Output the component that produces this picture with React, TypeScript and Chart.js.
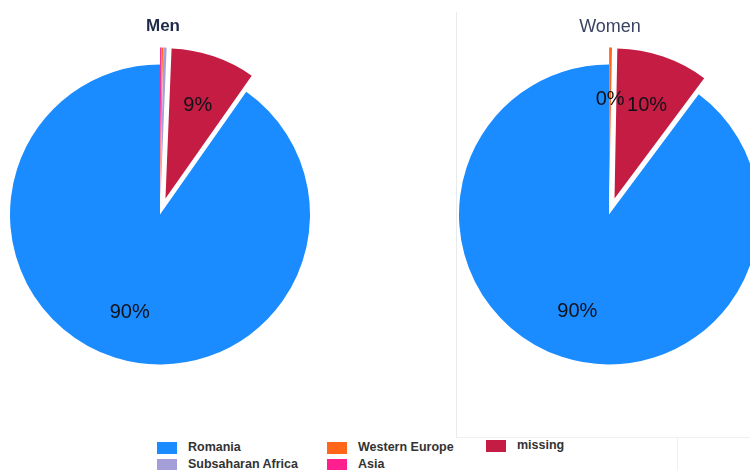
import React, { useEffect, useRef } from 'react';
import { Chart, ArcElement, PieController, registerables } from 'chart.js';

Chart.register(...registerables);

// ---------- data ----------
const CATEGORIES = ['Romania', 'Subsaharan Africa', 'Western Europe', 'Asia', 'missing'];
const COLORS = ['#1a8cff', '#a49ed9', '#ff661a', '#ff1f8f', '#c41c42'];
const MEN_VALUES = [90.25, 0.35, 0.15, 0.15, 9.1];
const WOMEN_VALUES = [89.8, 0, 0.3, 0, 9.9];
const MEN_LABELLED = [true, false, false, false, true];
const WOMEN_LABELLED = [true, false, true, false, true];
const EXPLODED = [false, true, true, true, true];
const SLICE_ORDER = [3, 2, 1, 4, 0]; // clockwise from 12 o'clock
const TITLES = ['Men', 'Women'];

// ---------- exploded pie (translate slice outward) ----------
class ExplodedArc extends ArcElement {
  static id = 'explodedArc';
  static defaults = { ...(ArcElement as any).defaults, explode: 0 };
  draw(ctx: CanvasRenderingContext2D) {
    const d = ((this as any).options.explode as number) || 0;
    const p: any = this as any;
    const half = (p.startAngle + p.endAngle) / 2;
    ctx.save();
    ctx.translate(Math.cos(half) * d, Math.sin(half) * d);
    super.draw(ctx);
    ctx.restore();
  }
}
class ExplodedPie extends PieController {
  static id = 'explodedPie';
  static defaults = { ...(PieController as any).defaults, dataElementType: 'explodedArc' };
}
Chart.register(ExplodedArc as any, ExplodedPie as any);

const makeLabelPlugin = (labelled: boolean[]) => ({
  id: 'sliceLabels',
  afterDatasetsDraw(chart: any) {
    const meta = chart.getDatasetMeta(0);
    const ds = chart.data.datasets[0];
    const data: number[] = ds.data;
    const total = data.reduce((a, b) => a + b, 0);
    const ctx: CanvasRenderingContext2D = chart.ctx;
    ctx.save();
    ctx.font = '20px "Liberation Sans", Arial, sans-serif';
    ctx.fillStyle = '#111118';
    ctx.textAlign = 'center';
    ctx.textBaseline = 'middle';
    meta.data.forEach((el: any, i: number) => {
      if (!labelled[i]) return;
      const v = data[i];
      const { x, y, startAngle, endAngle, outerRadius } = el.getProps(
        ['x', 'y', 'startAngle', 'endAngle', 'outerRadius'],
        true
      );
      const half = (startAngle + endAngle) / 2;
      const r = outerRadius * 0.67 + (el.options.explode || 0);
      ctx.fillText(
        Math.round((v / total) * 100) + '%',
        x + Math.cos(half) * r,
        y + Math.sin(half) * r + 2
      );
    });
    ctx.restore();
  },
});

function PieCanvas({ values, labelled, left }: { values: number[]; labelled: boolean[]; left: number }) {
  const ref = useRef<HTMLCanvasElement | null>(null);
  useEffect(() => {
    if (!ref.current) return;
    const idx = SLICE_ORDER;
    const lab = idx.map((i) => labelled[i]);
    const chart = new Chart(ref.current, {
      type: 'explodedPie' as any,
      data: {
        labels: idx.map((i) => CATEGORIES[i]),
        datasets: [
          {
            data: idx.map((i) => values[i]),
            backgroundColor: idx.map((i) => COLORS[i]),
            explode: idx.map((i) => (EXPLODED[i] ? 17 : 0)),
            borderWidth: 0,
            radius: 150,
          } as any,
        ],
      },
      options: {
        animation: false,
        responsive: false,
        events: [],
        plugins: { legend: { display: false }, tooltip: { enabled: false } },
      } as any,
      plugins: [makeLabelPlugin(lab)],
    });
    return () => chart.destroy();
  }, []);
  return (
    <canvas
      ref={ref}
      width={320}
      height={429}
      style={{ position: 'absolute', left, top: 0, width: 320, height: 429, display: 'block' }}
    />
  );
}

const LEGEND_ORDER = [0, 2, 4, 1, 3];
const LEGEND_POS: Record<number, [number, number]> = {
  0: [157, 442],
  1: [157, 459],
  2: [327, 442],
  3: [327, 459],
  4: [486, 440],
};

export default function App() {
  return (
    <div
      style={{
        position: 'absolute',
        left: 0,
        top: 0,
        width: 750,
        height: 470,
        overflow: 'hidden',
        background: '#fff',
        fontFamily: '"Liberation Sans", Arial, sans-serif',
      }}
    >
      {/* divider lines */}
      <div style={{ position: 'absolute', left: 456, top: 12, width: 1, height: 425, background: '#e6ebee' }} />
      <div style={{ position: 'absolute', left: 456, top: 437, width: 294, height: 1, background: '#eef1f3' }} />
      <div style={{ position: 'absolute', left: 677, top: 437, width: 1, height: 33, background: '#eef1f3' }} />

      <PieCanvas values={MEN_VALUES} labelled={MEN_LABELLED} left={0} />
      <PieCanvas values={WOMEN_VALUES} labelled={WOMEN_LABELLED} left={449} />

      <div
        style={{
          position: 'absolute',
          left: 113,
          top: 16,
          width: 100,
          textAlign: 'center',
          fontSize: 17,
          lineHeight: '20px',
          fontWeight: 'bold',
          color: '#1f2b4a',
        }}
      >
        {TITLES[0]}
      </div>
      <div
        style={{
          position: 'absolute',
          left: 560,
          top: 16,
          width: 100,
          textAlign: 'center',
          fontSize: 18,
          lineHeight: '20px',
          color: '#3b4562',
        }}
      >
        {TITLES[1]}
      </div>

      {LEGEND_ORDER.map((i) => {
        const [x, y] = LEGEND_POS[i];
        return (
          <div key={i} style={{ position: 'absolute', left: x, top: y, height: 12 }}>
            <div style={{ position: 'absolute', left: 0, top: 0, width: 20, height: 12, background: COLORS[i] }} />
            <div
              style={{
                position: 'absolute',
                left: 31,
                top: -3,
                whiteSpace: 'nowrap',
                fontSize: 12.5,
                lineHeight: '16px',
                fontWeight: 'bold',
                color: '#333',
              }}
            >
              {CATEGORIES[i]}
            </div>
          </div>
        );
      })}
    </div>
  );
}
